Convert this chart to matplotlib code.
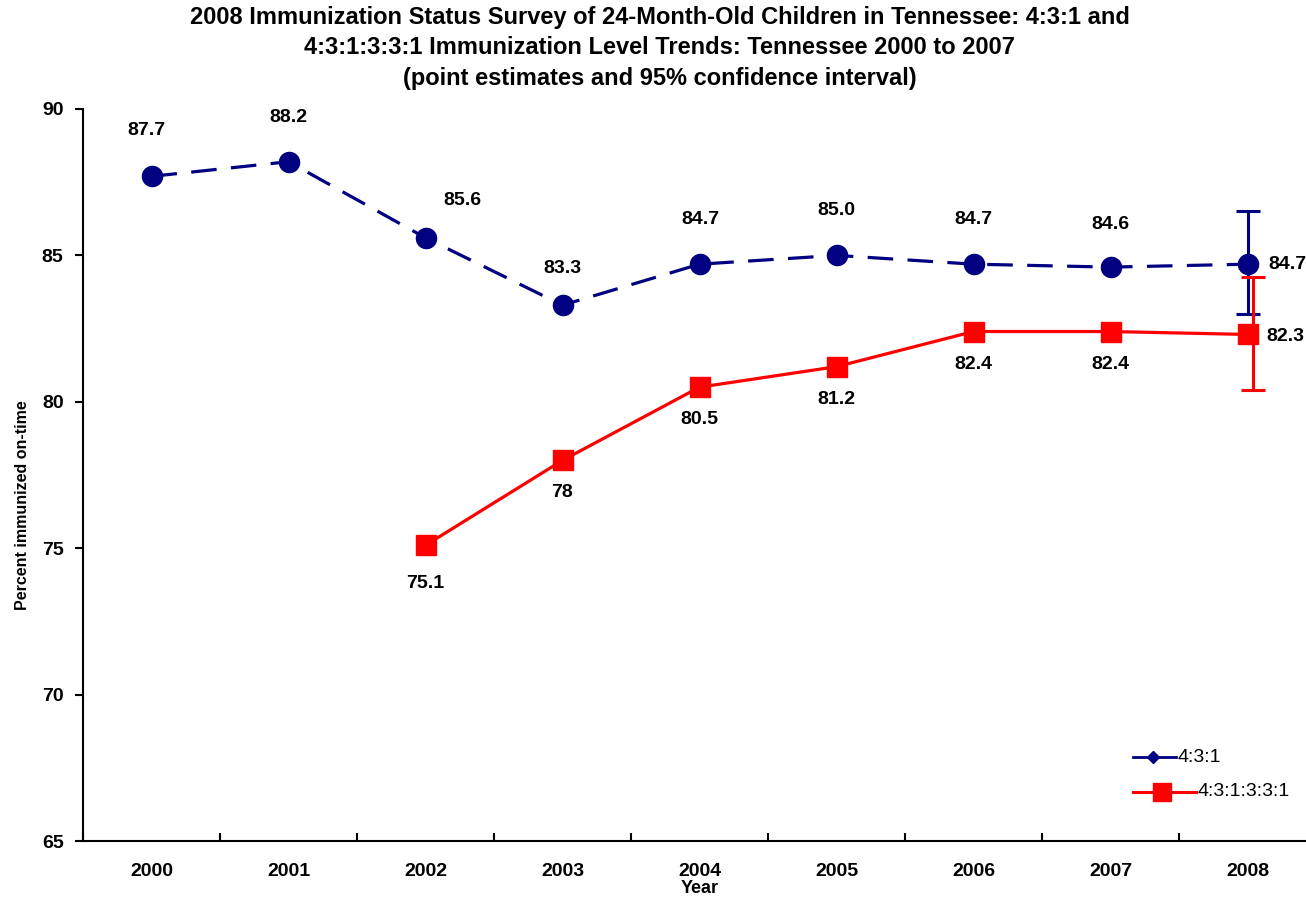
import matplotlib
matplotlib.use("Agg")
import matplotlib.pyplot as plt
from matplotlib.lines import Line2D
import numpy as np

years = ["2000", "2001", "2002", "2003", "2004", "2005", "2006", "2007", "2008"]
s431 = [87.7, 88.2, 85.6, 83.3, 84.7, 85.0, 84.7, 84.6, 84.7]
s431_labels = ["87.7", "88.2", "85.6", "83.3", "84.7", "85.0", "84.7", "84.6", "84.7"]
s431331_years = ["2002", "2003", "2004", "2005", "2006", "2007", "2008"]
s431331 = [75.1, 78.0, 80.5, 81.2, 82.4, 82.4, 82.3]
s431331_labels = ["75.1", "78", "80.5", "81.2", "82.4", "82.4", "82.3"]
ci_431_2008 = (83.0, 86.5)
ci_431331_2008 = (80.4, 84.25)

plt.rcParams['font.family'] = ['Liberation Sans', 'DejaVu Sans']

NAVY = "#000080"
RED = "#FF0000"

fig = plt.figure(figsize=(13.06, 9.0), dpi=100)
ax = fig.add_axes([83/1306, 1 - 841/900, (1316-83)/1306, (841-109)/900])

x1 = np.arange(len(years))
x2 = np.array([years.index(y) for y in s431331_years])

ax.plot(x1, s431, color=NAVY, lw=2.3, ls=(0, (8, 4.5)), marker='o', ms=14.5,
        mfc=NAVY, mec=NAVY, zorder=3)
ax.plot(x2, s431331, color=RED, lw=2.3, marker='s', ms=14,
        mfc=RED, mec=RED, zorder=3)

# error bars for 2008
v = s431[-1]
ax.errorbar([x1[-1]], [v], yerr=[[v - ci_431_2008[0]], [ci_431_2008[1] - v]],
            fmt='none', ecolor=NAVY, elinewidth=2.2, capsize=8.5, capthick=2.2, zorder=2)
v2 = s431331[-1]
ax.errorbar([x2[-1] + 0.04], [v2], yerr=[[v2 - ci_431331_2008[0]], [ci_431331_2008[1] - v2]],
            fmt='none', ecolor=RED, elinewidth=2.2, capsize=8.5, capthick=2.2, zorder=2)

# data labels (pixel offsets)
blue_offsets = [(-5, 46), (0, 44), (37, 37), (0, 37), (1, 45), (0, 45), (0, 45), (0, 43), (40, 0)]
for xi, yi, lab, off in zip(x1, s431, s431_labels, blue_offsets):
    ax.annotate(lab, (xi, yi), xytext=off, textcoords='offset pixels',
                ha='center', va='center', fontsize=14, fontweight='bold', color='black')
red_offsets = [(0, -38), (0, -32), (0, -32), (0, -33), (0, -33), (0, -33), (38, -2)]
for xi, yi, lab, off in zip(x2, s431331, s431331_labels, red_offsets):
    ax.annotate(lab, (xi, yi), xytext=off, textcoords='offset pixels',
                ha='center', va='center', fontsize=14, fontweight='bold', color='black')

ax.set_xlim(-0.5, 8.5)
ax.set_ylim(65, 90)
ax.set_yticks([65, 70, 75, 80, 85, 90])
ax.set_xticks(x1)
ax.set_xticklabels(years)
ax.set_xticks(np.arange(-0.5, 8.6, 1), minor=True)
ax.tick_params(axis='x', which='major', length=0, pad=16)
ax.tick_params(axis='x', which='minor', length=6, width=1.5, direction='in')
ax.tick_params(axis='y', length=6, width=1.5, direction='out', pad=8)
for lab in ax.get_xticklabels() + ax.get_yticklabels():
    lab.set_fontweight('bold')
    lab.set_fontsize(14)

ax.spines['top'].set_visible(False)
ax.spines['right'].set_visible(False)
ax.spines['left'].set_linewidth(1.5)
ax.spines['bottom'].set_linewidth(1.5)

ax.set_xlabel("Year", fontsize=13, fontweight='bold', labelpad=0)
ax.set_ylabel("Percent immunized on-time", fontsize=11.5, fontweight='bold')
ax.yaxis.set_label_coords(-(83 - 30) / 1233, (841 - 505) / 732)

fig.text(0.505, 1 - 48/900,
         "2008 Immunization Status Survey of 24-Month-Old Children in Tennessee: 4:3:1 and\n"
         "4:3:1:3:3:1 Immunization Level Trends: Tennessee 2000 to 2007\n"
         "(point estimates and 95% confidence interval)",
         ha='center', va='center', fontsize=17, fontweight='bold', linespacing=1.42)

# legend drawn manually (entries have different line lengths)
def fx(px):
    return px / 1306
def fy(py):
    return 1 - py / 900

fig.add_artist(Line2D([fx(1133), fx(1176)], [fy(757), fy(757)], color=NAVY, lw=2,
                      transform=fig.transFigure))
fig.add_artist(Line2D([fx(1153)], [fy(757)], color=NAVY, marker='D', ms=6, mfc=NAVY,
                      mec=NAVY, transform=fig.transFigure))
fig.text(fx(1178), fy(757), "4:3:1", ha='left', va='center', fontsize=14)
fig.add_artist(Line2D([fx(1133), fx(1196)], [fy(792), fy(792)], color=RED, lw=2.2,
                      transform=fig.transFigure))
fig.add_artist(Line2D([fx(1162)], [fy(792)], color=RED, marker='s', ms=13, mfc=RED,
                      mec=RED, transform=fig.transFigure))
fig.text(fx(1198), fy(792), "4:3:1:3:3:1", ha='left', va='center', fontsize=14)

fig.savefig("out.png", dpi=100, facecolor='white')
